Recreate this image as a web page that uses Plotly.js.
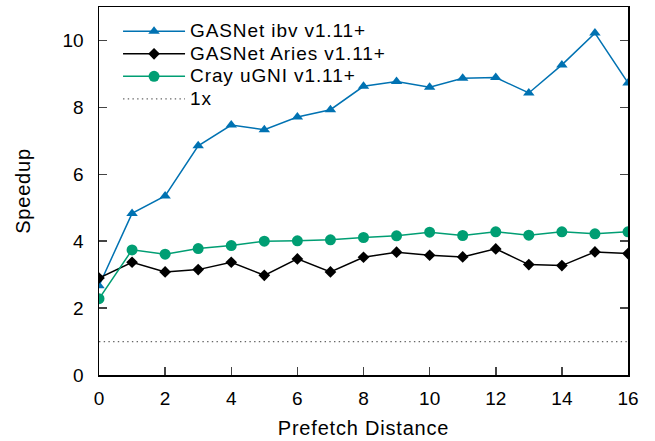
<!DOCTYPE html>
<html><head><meta charset="utf-8">
<script src="https://cdn.plot.ly/plotly-3.0.1.min.js"></script>
<style>
html,body{margin:0;padding:0;background:#fff}#chart{width:655px;height:441px}
#chart .legendtext{font-size:19px !important;letter-spacing:0.9px}
#chart .legend, #chart .legend *{clip-path:none !important}
#chart .xtitle,#chart .ytitle{letter-spacing:0.8px}
</style>
</head><body><div id="chart"></div>
<script>
const distance = [0,1,2,3,4,5,6,7,8,9,10,11,12,13,14,15,16];
const ibv   = [2.67,4.83,5.35,6.85,7.47,7.33,7.71,7.93,8.63,8.77,8.6,8.87,8.89,8.43,9.27,10.22,8.73];
const aries = [2.9,3.37,3.08,3.15,3.37,2.98,3.47,3.08,3.52,3.67,3.58,3.53,3.77,3.3,3.27,3.68,3.63];
const ugni  = [2.28,3.74,3.61,3.78,3.87,4.0,4.01,4.04,4.11,4.16,4.27,4.17,4.28,4.18,4.28,4.22,4.28];
const baselineX = [0,16];
const baselineY = [1,1];
const names = ["GASNet ibv v1.11+","GASNet Aries v1.11+","Cray uGNI v1.11+","1x"];
const xTicks = [0,2,4,6,8,10,12,14,16];
const yTicks = [0,2,4,6,8,10];

const font = "Liberation Sans, Arial, Helvetica, sans-serif";
const traces = [
  {x:distance,y:ibv,name:names[0],mode:"lines+markers",line:{color:"#0072B2",width:1.5},marker:{symbol:"triangle-up",size:10,color:"#0072B2"}},
  {x:distance,y:aries,name:names[1],mode:"lines+markers",line:{color:"#000000",width:1.5},marker:{symbol:"diamond",size:9,color:"#000000"}},
  {x:distance,y:ugni,name:names[2],mode:"lines+markers",line:{color:"#009E73",width:1.5},marker:{symbol:"circle",size:11,color:"#009E73"}},
  {x:baselineX,y:baselineY,name:names[3],mode:"lines",line:{color:"#666666",width:1.3,dash:"1.4px,3.3px"}}
];
const layout = {
  width:655,height:441,
  margin:{l:99,r:27,t:7,b:66},
  paper_bgcolor:"#fff",plot_bgcolor:"#fff",
  font:{family:font,size:19,color:"#000"},
  showlegend:true,
  legend:{x:0.036,y:0.978,xanchor:"left",yanchor:"top",bgcolor:"rgba(0,0,0,0)",font:{size:15,family:font},itemwidth:62,tracegroupgap:0},
  xaxis:{range:[0,16],tickvals:xTicks,ticks:"inside",ticklen:8,tickwidth:1.5,showline:true,linewidth:1.5,linecolor:"#000",mirror:true,showgrid:false,zeroline:false,
    ticklabelstandoff:6,tickfont:{size:19},title:{text:"Prefetch Distance",font:{size:20,family:font},standoff:12}},
  yaxis:{range:[0,11],tickvals:yTicks,ticks:"inside",ticklen:8,tickwidth:1.5,showline:true,linewidth:1.5,linecolor:"#000",mirror:"ticks",showgrid:false,zeroline:false,
    ticklabelstandoff:10,tickfont:{size:19},title:{text:"Speedup",font:{size:20,family:font},standoff:26}}
};
Plotly.newPlot("chart",traces,layout,{staticPlot:true,displayModeBar:false});
</script></body></html>
